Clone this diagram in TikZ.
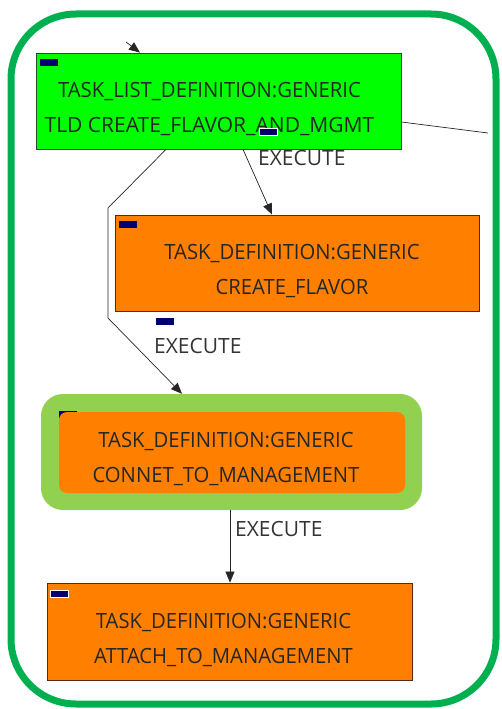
\documentclass[tikz,border=0pt]{standalone}
\usepackage{fontspec}
\setmainfont{Open Sans}
\usetikzlibrary{arrows.meta}
\definecolor{frame}{HTML}{00B050}
\definecolor{tldfill}{HTML}{00FF00}
\definecolor{taskfill}{HTML}{FF8000}
\definecolor{hilite}{HTML}{92D050}
\definecolor{taskborder}{HTML}{5A2A10}
\definecolor{tldborder}{HTML}{2A4A2A}
\definecolor{marker}{HTML}{000070}
\newcommand{\nar}[1]{\scalebox{0.965}[1]{#1}}
\tikzset{
  tldbox/.style={draw=tldborder, fill=tldfill, line width=0.8pt, inner sep=0pt},
  taskbox/.style={draw=taskborder, fill=taskfill, line width=0.8pt, inner sep=0pt},
  boxtext/.style={align=center, text=black!85, font=\fontsize{21}{35}\selectfont, inner sep=0pt},
  edgetext/.style={text=black!80, font=\fontsize{21}{24}\selectfont, inner sep=0pt, anchor=west},
  flag/.style={draw=white, fill=marker, line width=0.6pt, minimum width=18pt, minimum height=7pt, inner sep=0pt},
  link/.style={draw=black!85, line width=0.7pt},
  arrowlink/.style={link, -{Triangle[length=11pt,width=9pt]}},
}
\begin{document}
\begin{tikzpicture}[x=1pt,y=-1pt]
\useasboundingbox (0,0) rectangle (502,709);

% outer container
\draw[frame, line width=7pt, rounded corners=65pt] (11,14) rectangle (496,704);

% task list definition
\node[tldbox, minimum width=365pt, minimum height=96pt] (tld) at (218.5,101) {};
\node[boxtext] (tldtxt) at ([xshift=-9pt,yshift=-8pt]tld.center)
  {\nar{TASK\_LIST\_DEFINITION:GENERIC}\\TLD CREATE\_FLAVOR\_AND\_MGMT};
\node[flag, draw=none] (tldflag) at (48.5,62.5) {};

% create flavor task
\node[taskbox, minimum width=364pt, minimum height=96pt] (flavor) at (297,263) {};
\node[boxtext] (flavortxt) at ([xshift=-5pt,yshift=-8pt]flavor.center)
  {\nar{TASK\_DEFINITION:GENERIC}\\\nar{CREATE\_FLAVOR}};
\node[flag, draw=none] (flavorflag) at (128,224) {};

% highlighted connect task
\node[fill=hilite, rounded corners=22pt, minimum width=381pt, minimum height=116pt, inner sep=0pt] (hl) at (231.5,452) {};
\node[flag, draw=none] (connectflag) at (68,414.5) {};
\node[fill=taskfill, rounded corners=8pt, minimum width=346pt, minimum height=81pt, inner sep=0pt] (connect) at (232,452.5) {};
\node[boxtext] (connecttxt) at ([xshift=-6pt,yshift=-6pt]connect.center)
  {\nar{TASK\_DEFINITION:GENERIC}\\\nar{CONNET\_TO\_MANAGEMENT}};

% attach task
\node[taskbox, minimum width=365pt, minimum height=97pt] (attach) at (229.5,631.5) {};
\node[boxtext] (attachtxt) at ([xshift=-6pt,yshift=-8pt]attach.center)
  {\nar{TASK\_DEFINITION:GENERIC}\\\nar{ATTACH\_TO\_MANAGEMENT}};
\node[flag] (attachflag) at (59.5,593.5) {};

% connectors
\coordinate (inA) at (126,42);
\coordinate (outR) at (488,133);
\draw[arrowlink] (inA) -- (tld.north -| 140,0);
\draw[link] (tld.east |- 0,122) -- (outR);

\draw[arrowlink] (tld.south -| 243,0) -- (flavor.north -| 272,0);
\node[flag] (e1flag) at (268,131.5) {};
\node[edgetext] (e1) at (258,158) {EXECUTE};

\coordinate (b1) at (108,208);
\coordinate (b2) at (108,318);
\draw[arrowlink] (tld.south -| 166,0) -- (b1) -- (b2) -- (hl.north -| 182,0);
\node[flag, draw=none] (e2flag) at (164.5,321) {};
\node[edgetext] (e2) at (154,346) {EXECUTE};

\draw[arrowlink] (hl.south -| 230,0) -- (attach.north -| 230,0);
\node[edgetext] (e3) at (235,529) {EXECUTE};
\end{tikzpicture}
\end{document}
